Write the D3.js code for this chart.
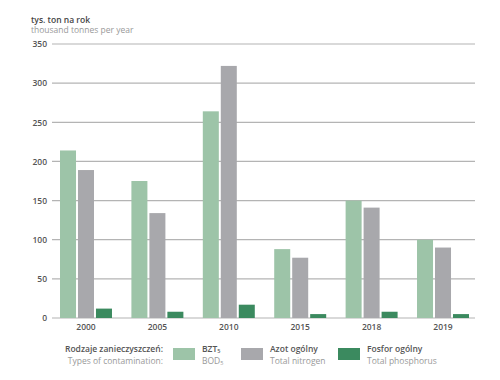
<!DOCTYPE html>
<html><head><meta charset="utf-8">
<script src="https://cdn.jsdelivr.net/npm/d3@7"></script>
<style>
body{margin:0;background:#fff;}
svg{display:block;font-family:"Open Sans",sans-serif;}
</style></head>
<body><svg id="c" width="500" height="380"></svg>
<script>
const years = ["2000","2005","2010","2015","2018","2019"];
const bod = [214, 175, 264, 88, 150, 100];
const nitrogen = [189, 134, 322, 77, 141, 90];
const phosphorus = [12, 8, 17, 5, 8, 5];
const yTicks = [0, 50, 100, 150, 200, 250, 300, 350];
const seriesNames = ["bod","nitrogen","phosphorus"];
const seriesColors = ["#9dc4a8","#a8a8ac","#3b8a5f"];
const legendPl = ["BZT","Azot ogólny","Fosfor ogólny"];
const legendEn = ["BOD","Total nitrogen","Total phosphorus"];

const svg = d3.select("#c");
const y = d3.scaleLinear().domain([0,350]).range([318,44]);
const x = d3.scaleBand().domain(years).range([60,469]).paddingInner(0.272).paddingOuter(0);
const xs = d3.scaleBand().domain(seriesNames).range([0, x.bandwidth()]).paddingInner(0.11);

// gridlines
svg.append("g").selectAll("line").data(yTicks).join("line")
  .attr("x1",52).attr("x2",475)
  .attr("y1",d=>y(d)).attr("y2",d=>y(d))
  .attr("stroke","#b4b4b4").attr("stroke-width",1.2);

// y axis labels
const yAxis = d3.axisLeft(y).tickValues(yTicks).tickSize(0).tickPadding(0);
const ya = svg.append("g").attr("transform","translate(47,0)").call(yAxis);
ya.select(".domain").remove();
ya.selectAll("text").attr("font-size",8.5).attr("font-weight",600).attr("fill","#555").attr("font-family","Open Sans");

// bars
const data = years.map((yr,i)=>({year:yr, vals:[bod[i],nitrogen[i],phosphorus[i]]}));
const g = svg.append("g").selectAll("g").data(data).join("g")
  .attr("transform",d=>`translate(${x(d.year)},0)`);
g.selectAll("rect").data(d=>d.vals.map((v,j)=>({v,s:seriesNames[j],c:seriesColors[j]}))).join("rect")
  .attr("x",d=>xs(d.s)).attr("width",xs.bandwidth())
  .attr("y",d=>y(d.v)).attr("height",d=>y(0)-y(d.v))
  .attr("fill",d=>d.c);

// x axis labels
const xAxis = d3.axisBottom(x).tickSize(0).tickPadding(0);
const xa = svg.append("g").attr("transform","translate(0,324)").call(xAxis);
xa.select(".domain").remove();
xa.selectAll("text").attr("font-size",8.5).attr("font-weight",600).attr("fill","#555").attr("font-family","Open Sans");

// title
svg.append("text").attr("x",31).attr("y",23).attr("font-size",8.5).attr("font-weight",600).attr("fill","#444").text("tys. ton na rok");
svg.append("text").attr("x",31).attr("y",33).attr("font-size",8.5).attr("fill","#999").text("thousand tonnes per year");

// legend
svg.append("text").attr("x",163).attr("y",352).attr("text-anchor","end").attr("font-size",8.5).attr("font-weight",600).attr("fill","#555").text("Rodzaje zanieczyszczeń:");
svg.append("text").attr("x",163).attr("y",363.5).attr("text-anchor","end").attr("font-size",8.5).attr("fill","#999").text("Types of contamination:");
const lx = [173, 241, 338];
seriesNames.forEach((s,i)=>{
  svg.append("rect").attr("x",lx[i]).attr("y",348).attr("width",22).attr("height",12).attr("fill",seriesColors[i]);
  const t1 = svg.append("text").attr("x",lx[i]+29).attr("y",351.5).attr("font-size",8.5).attr("font-weight",600).attr("fill","#555").text(legendPl[i]);
  const t2 = svg.append("text").attr("x",lx[i]+29).attr("y",363.5).attr("font-size",8.5).attr("fill","#999").text(legendEn[i]);
  if(i===0){
    t1.append("tspan").attr("font-size",5.5).attr("dy",1.5).text("5");
    t2.append("tspan").attr("font-size",5.5).attr("dy",1.5).text("5");
  }
});
</script></body></html>
